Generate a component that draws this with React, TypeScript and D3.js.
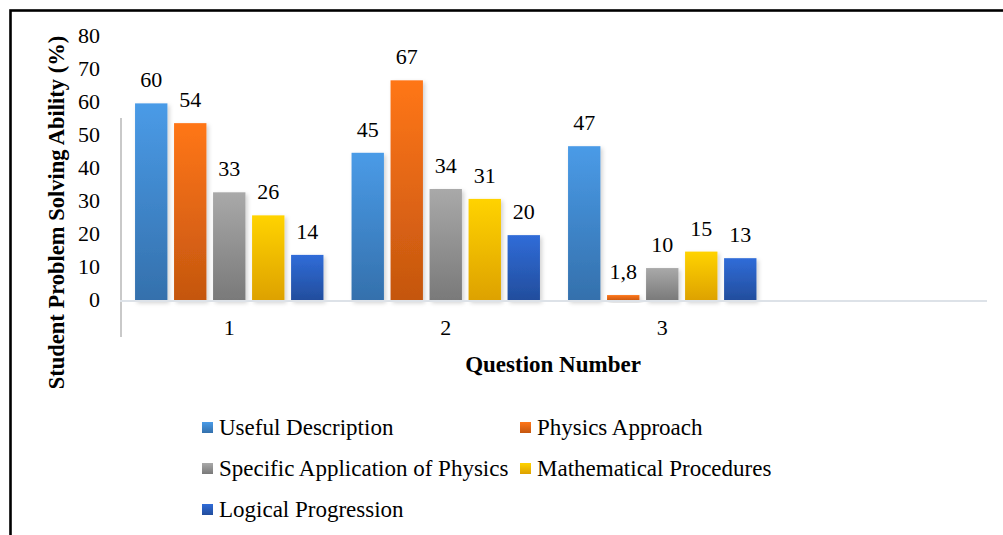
import React from 'react';
import * as d3 from 'd3';

const categories = ['1', '2', '3', ''];
const seriesNames = [
  'Useful Description',
  'Physics Approach',
  'Specific Application of Physics',
  'Mathematical Procedures',
  'Logical Progression',
];
const usefulDescription = [60, 45, 47];
const physicsApproach = [54, 67, 1.8];
const specificApplication = [33, 34, 10];
const mathematicalProcedures = [26, 31, 15];
const logicalProgression = [14, 20, 13];
const yTicks = [0, 10, 20, 30, 40, 50, 60, 70, 80];

const seriesValues = [
  usefulDescription,
  physicsApproach,
  specificApplication,
  mathematicalProcedures,
  logicalProgression,
];

// top / bottom of each bar gradient
const gradients = [
  ['#4a9be7', '#3470ac'],
  ['#ff7619', '#c4560f'],
  ['#a9a9a9', '#797979'],
  ['#ffd300', '#dda100'],
  ['#306cd8', '#224d9c'],
];

const W = 1003;
const H = 535;
const font = '"Liberation Serif", "Times New Roman", serif';

export default function App() {
  const x = d3.scaleBand().domain(categories).range([121, 987]).padding(0);
  const xs = d3
    .scaleBand()
    .domain(seriesNames)
    .range([0, x.bandwidth()])
    .paddingInner(0.17)
    .paddingOuter(0.36);
  const y = d3.scaleLinear().domain([0, 80]).range([301, 37.5]);

  const legendRows = [
    [0, 0],
    [0, 1],
    [1, 0],
    [1, 1],
    [2, 0],
  ];
  const legendX = [202, 520];
  const legendY = d3.scaleLinear().domain([0, 2]).range([427.5, 509.5]);

  return (
    <svg
      width={W}
      height={H}
      style={{ position: 'absolute', left: 0, top: 0, background: '#fff' }}
      fontFamily={font}
    >
      <defs>
        {gradients.map((g, i) => (
          <linearGradient key={i} id={`grad${i}`} x1="0" y1="0" x2="0" y2="1">
            <stop offset="0%" stopColor={g[0]} />
            <stop offset="100%" stopColor={g[1]} />
          </linearGradient>
        ))}
        <filter id="shadow" x="-20%" y="-10%" width="150%" height="130%">
          <feDropShadow dx="2" dy="2" stdDeviation="2" floodColor="#000" floodOpacity="0.18" />
        </filter>
      </defs>

      <rect x={10.5} y={10.5} width={1100} height={1000} fill="none" stroke="#000" strokeWidth={2.6} />

      {/* y tick labels */}
      {yTicks.map((t) => (
        <text key={t} x={100} y={y(t)} dy="0.25em" textAnchor="end" fontSize={22} fill="#000">
          {t}
        </text>
      ))}

      {/* axis lines */}
      <line x1={121} x2={121} y1={118} y2={337} stroke="#c9c9c9" strokeWidth={2} />

      {/* bars */}
      {seriesValues.map((vals, si) => (
        <g key={si}>
          {vals.map((v, ci) => {
            const bx = (x(categories[ci]) as number) + (xs(seriesNames[si]) as number);
            return (
              <g key={ci}>
                <rect
                  x={bx}
                  y={y(v)}
                  width={xs.bandwidth()}
                  height={y(0) - y(v)}
                  fill={`url(#grad${si})`}
                  filter="url(#shadow)"
                />
                <text
                  x={bx + xs.bandwidth() / 2}
                  y={y(v) - 16}
                  textAnchor="middle"
                  fontSize={22}
                  fill="#000"
                >
                  {String(v).replace('.', ',')}
                </text>
              </g>
            );
          })}
        </g>
      ))}

      <line x1={120} x2={987} y1={y(0)} y2={y(0)} stroke="#dde2e8" strokeWidth={2.2} />

      {/* category labels */}
      {categories.map((c) => (
        <text
          key={c || 'blank'}
          x={(x(c) as number) + x.bandwidth() / 2}
          y={335}
          textAnchor="middle"
          fontSize={22}
          fill="#000"
        >
          {c}
        </text>
      ))}

      {/* axis titles */}
      <text x={553} y={372} textAnchor="middle" fontSize={23} fontWeight="bold" fill="#000">
        Question Number
      </text>
      <text
        transform={`translate(64,212.5) rotate(-90)`}
        textAnchor="middle"
        fontSize={22.5}
        fontWeight="bold"
        fill="#000"
      >
        Student Problem Solving Ability (%)
      </text>

      {/* legend */}
      {seriesNames.map((name, i) => {
        const [row, col] = legendRows[i];
        const lx = legendX[col];
        const ly = legendY(row);
        return (
          <g key={name}>
            <rect x={lx} y={ly - 5.5} width={11} height={11} fill={`url(#grad${i})`} />
            <text x={lx + 17} y={ly} dy="0.33em" fontSize={23} fill="#000">
              {name}
            </text>
          </g>
        );
      })}
    </svg>
  );
}
